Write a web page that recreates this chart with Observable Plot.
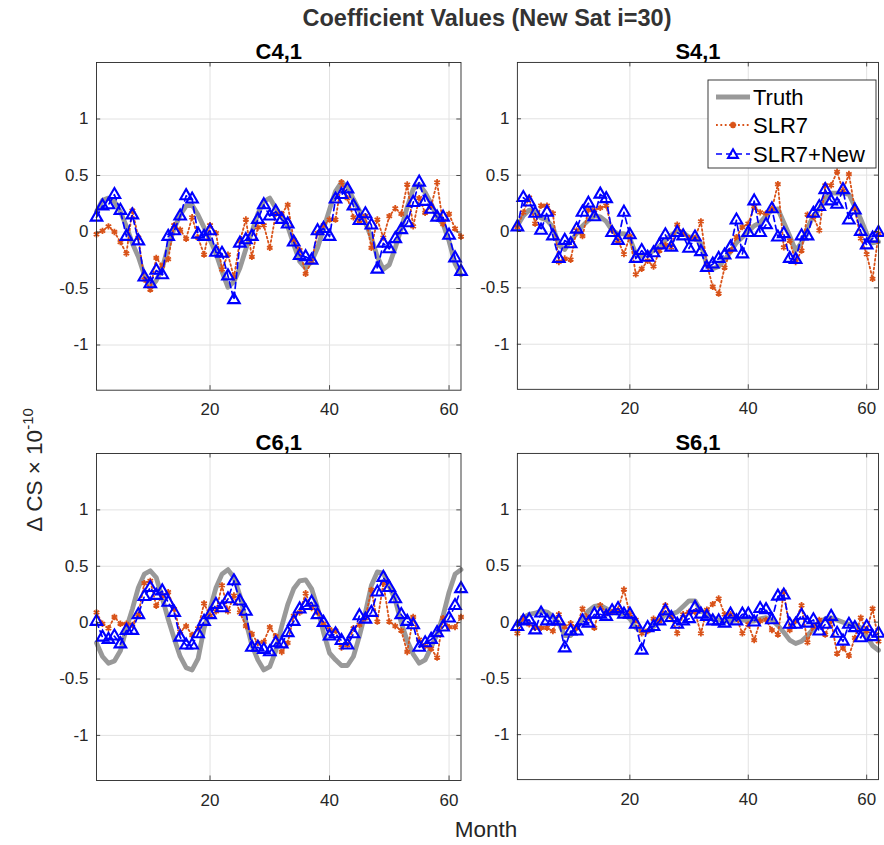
<!DOCTYPE html>
<html><head><meta charset="utf-8">
<script src="https://cdn.jsdelivr.net/npm/d3@7"></script>
<script src="https://cdn.jsdelivr.net/npm/@observablehq/plot@0.6"></script>
<style>
body{margin:0;background:#fff;font-family:"Liberation Sans",Arial,Helvetica,sans-serif;}
#fig{position:relative;width:884px;height:845px;background:#fff;overflow:hidden;}
.panel{position:absolute;}
.lbl{position:absolute;color:#262626;white-space:nowrap;}
</style></head><body><div id="fig"></div>
<script>
const months = d3.range(1, 63);
const xTicks = [20, 40, 60];
const yTicks = [-1, -0.5, 0, 0.5, 1];
const yDomain = [-1.4, 1.5];
const seriesNames = ["Truth", "SLR7", "SLR7+New"];
const panelTitles = ["C4,1", "S4,1", "C6,1", "S6,1"];

const c41Truth = [0.18,0.28,0.30,0.27,0.18,0.05,-0.10,-0.22,-0.38,-0.49,-0.43,-0.32,-0.13,0.03,0.15,0.23,0.24,0.15,0.04,-0.07,-0.19,-0.35,-0.49,-0.44,-0.32,-0.15,0.00,0.16,0.27,0.30,0.21,0.13,0.05,-0.11,-0.26,-0.32,-0.26,-0.14,0.03,0.20,0.36,0.44,0.40,0.29,0.19,0.08,-0.05,-0.22,-0.33,-0.29,-0.14,0.03,0.22,0.38,0.42,0.35,0.25,0.13,0.07,-0.08,-0.28,-0.38];
const c41Slr7 = [-0.02,0.01,0.05,0.00,-0.09,-0.19,0.19,-0.05,-0.42,-0.51,-0.23,-0.30,-0.24,0.06,0.02,-0.06,0.13,-0.05,-0.20,0.06,-0.01,-0.33,-0.20,-0.40,-0.08,0.11,-0.22,0.04,0.06,-0.14,0.16,0.16,0.24,-0.07,-0.16,-0.37,-0.26,-0.01,0.06,0.11,0.11,0.44,0.30,0.13,0.10,0.14,-0.14,0.11,-0.05,0.14,0.21,0.16,0.42,0.05,0.30,0.17,0.23,0.44,0.07,0.16,0.03,-0.04];
const c41New = [0.13,0.23,0.24,0.33,0.19,-0.04,0.15,-0.08,-0.40,-0.46,-0.34,-0.38,-0.04,0.01,0.14,0.32,0.29,-0.02,-0.04,0.01,-0.18,-0.19,-0.39,-0.60,-0.10,-0.07,-0.04,0.11,0.24,0.14,0.18,0.11,0.07,-0.09,-0.21,-0.22,-0.25,0.01,0.03,-0.04,0.29,0.33,0.38,0.23,0.10,0.16,0.06,-0.33,-0.10,-0.15,-0.06,0.02,0.08,0.26,0.44,0.27,0.20,0.13,0.13,-0.03,-0.23,-0.35];

const s41Truth = [0.05,0.14,0.19,0.17,0.12,0.10,0.04,-0.12,-0.16,-0.08,-0.02,0.05,0.10,0.14,0.13,0.09,0.01,-0.02,-0.02,-0.06,-0.20,-0.22,-0.20,-0.17,-0.13,-0.08,-0.03,0.00,-0.01,-0.05,-0.05,-0.11,-0.30,-0.33,-0.31,-0.25,-0.18,-0.10,-0.05,0.00,0.05,0.08,0.14,0.19,0.20,0.08,-0.04,-0.17,-0.10,0.03,0.14,0.20,0.30,0.34,0.34,0.34,0.33,0.22,0.11,-0.02,-0.10,-0.09];
const s41Slr7 = [0.04,0.17,0.30,0.07,0.23,0.23,0.16,-0.27,-0.24,-0.25,0.01,-0.04,0.19,0.19,0.21,0.23,0.01,-0.08,-0.20,-0.04,-0.38,-0.33,-0.26,-0.31,-0.17,-0.12,-0.14,0.06,-0.02,-0.06,-0.06,0.09,-0.29,-0.49,-0.55,-0.32,-0.17,-0.05,0.04,0.07,0.22,0.17,0.16,0.20,0.42,-0.14,-0.08,-0.27,-0.17,0.15,0.13,0.01,0.41,0.41,0.53,0.36,0.51,0.20,-0.06,-0.20,-0.42,-0.02];
const s41New = [0.04,0.30,0.26,0.16,0.01,0.17,-0.04,-0.24,-0.08,-0.11,0.02,0.17,0.25,0.13,0.33,0.29,-0.01,-0.08,0.17,-0.03,-0.24,-0.17,-0.23,-0.19,-0.12,-0.03,-0.14,-0.01,-0.04,-0.15,-0.05,-0.18,-0.32,-0.29,-0.24,-0.21,-0.14,0.10,-0.20,-0.01,0.27,-0.01,0.06,0.20,-0.05,-0.02,-0.24,-0.25,-0.04,-0.04,0.16,0.22,0.37,0.27,0.24,0.37,0.10,0.19,0.00,-0.12,-0.06,-0.01];

const c61Truth = [-0.18,-0.30,-0.36,-0.34,-0.25,-0.05,0.12,0.31,0.43,0.46,0.40,0.22,0.03,-0.14,-0.30,-0.40,-0.42,-0.32,-0.05,0.12,0.31,0.43,0.47,0.40,0.24,0.01,-0.20,-0.33,-0.42,-0.39,-0.25,-0.03,0.16,0.30,0.37,0.38,0.30,0.13,-0.09,-0.27,-0.33,-0.38,-0.38,-0.30,-0.12,0.09,0.33,0.45,0.44,0.32,0.20,0.00,-0.16,-0.28,-0.36,-0.33,-0.22,-0.10,0.06,0.27,0.43,0.47];
const c61Slr7 = [0.09,-0.01,-0.05,0.05,-0.01,-0.01,-0.02,0.07,0.35,0.37,0.15,0.24,0.27,0.12,-0.08,-0.03,-0.11,-0.05,0.17,0.06,0.10,0.33,0.10,0.24,0.09,-0.03,-0.10,-0.18,-0.17,-0.04,-0.12,-0.26,-0.18,0.06,0.09,0.26,0.13,0.09,-0.01,-0.06,-0.07,-0.22,-0.20,-0.05,-0.02,0.04,0.29,0.01,0.35,0.01,-0.03,-0.07,-0.26,0.05,-0.15,-0.21,-0.23,-0.31,0.04,-0.04,-0.04,0.05];
const c61New = [0.01,-0.13,-0.15,-0.12,-0.19,-0.07,-0.07,0.07,0.23,0.31,0.24,0.28,0.18,0.09,-0.13,-0.20,-0.20,-0.10,0.01,0.07,0.16,0.13,0.21,0.37,0.19,0.10,-0.22,-0.22,-0.24,-0.26,-0.18,-0.19,-0.09,0.01,0.12,0.15,0.18,0.07,0.00,-0.12,-0.10,-0.16,-0.20,-0.10,0.06,0.03,0.09,0.27,0.40,0.31,0.21,0.07,0.01,-0.02,-0.22,-0.18,-0.15,-0.09,-0.04,0.04,0.15,0.30];

const s61Truth = [-0.02,0.04,0.07,0.08,0.10,0.09,0.05,-0.01,-0.12,-0.12,-0.05,0.03,0.10,0.14,0.15,0.12,0.09,0.08,0.07,0.03,-0.05,-0.08,-0.08,-0.04,0.01,0.07,0.07,0.09,0.14,0.19,0.19,0.10,0.07,0.04,0.02,0.01,0.01,0.02,0.02,0.01,0.01,0.03,0.04,0.02,-0.03,-0.09,-0.16,-0.19,-0.17,-0.12,-0.06,0.00,0.03,0.04,0.02,0.00,-0.02,-0.02,-0.05,-0.12,-0.21,-0.25];
const s61Slr7 = [-0.10,0.04,-0.02,-0.05,-0.05,-0.05,-0.08,0.07,-0.04,-0.01,-0.05,0.12,0.04,-0.05,0.15,0.08,0.09,0.11,0.29,0.07,0.02,-0.10,-0.08,0.03,0.01,0.15,0.05,-0.10,0.07,0.09,0.09,-0.10,0.11,0.16,0.21,0.07,0.07,0.04,-0.10,-0.02,-0.16,0.01,0.02,-0.07,-0.11,0.27,-0.07,0.01,0.15,-0.18,-0.04,0.02,-0.11,0.01,-0.28,-0.23,-0.30,-0.14,0.04,-0.08,0.12,-0.17];
const s61New = [-0.04,0.01,0.02,-0.07,0.08,0.01,0.01,0.01,-0.23,-0.08,-0.08,0.01,-0.01,0.07,0.07,0.05,0.10,0.12,0.07,0.07,-0.02,-0.25,-0.05,-0.04,0.01,0.10,0.04,-0.02,0.01,0.03,0.13,0.07,0.05,0.01,0.01,-0.01,0.07,0.01,0.07,0.07,0.00,0.12,0.11,0.02,0.23,0.24,-0.02,-0.02,0.06,-0.01,0.02,-0.08,-0.02,0.05,-0.10,-0.17,-0.02,-0.05,-0.14,-0.04,-0.13,-0.10];

const colors = {truth: "#999999", slr7: "#D95319", slr7new: "#0000FF"};

const panels = [
  {title: panelTitles[0], truth: c41Truth, slr7: c41Slr7, slr7new: c41New, left: 95.5, top: 61.5, w: 364.5, h: 327.7},
  {title: panelTitles[1], truth: s41Truth, slr7: s41Slr7, slr7new: s41New, left: 517, top: 61.5, w: 362, h: 327.7},
  {title: panelTitles[2], truth: c61Truth, slr7: c61Slr7, slr7new: c61New, left: 95.5, top: 452.5, w: 364.5, h: 327},
  {title: panelTitles[3], truth: s61Truth, slr7: s61Slr7, slr7new: s61New, left: 517, top: 452.5, w: 362, h: 327}
];

const fig = document.getElementById("fig");
const mL = 50, mR = 6, mT = 34, mB = 34;

for (const p of panels) {
  const rows = (arr) => months.map((m, i) => ({m, v: arr[i]}));
  const chart = Plot.plot({
    width: mL + p.w + mR,
    height: mT + p.h + mB,
    marginLeft: mL, marginRight: mR, marginTop: mT, marginBottom: mB,
    style: {fontSize: "17px", fontFamily: "'Liberation Sans', Arial, sans-serif", color: "#262626", background: "transparent", overflow: "visible"},
    x: {domain: [1, 62]},
    y: {domain: yDomain},
    marks: [
      Plot.gridX(xTicks, {stroke: "#e2e2e2", strokeOpacity: 1, strokeWidth: 1}),
      Plot.gridY(yTicks, {stroke: "#e2e2e2", strokeOpacity: 1, strokeWidth: 1}),
      Plot.line(rows(p.truth), {x: "m", y: "v", stroke: colors.truth, strokeWidth: 4.8, strokeLinejoin: "round"}),
      Plot.line(rows(p.slr7), {x: "m", y: "v", stroke: colors.slr7, strokeWidth: 1.8, strokeDasharray: "1.8,2.6"}),
      Plot.dot(rows(p.slr7), {x: "m", y: "v", symbol: "asterisk", r: 3, stroke: colors.slr7, strokeWidth: 1.8}),
      Plot.line(rows(p.slr7new), {x: "m", y: "v", stroke: colors.slr7new, strokeWidth: 1.7, strokeDasharray: "6,4"}),
      Plot.dot(rows(p.slr7new), {x: "m", y: "v", symbol: "triangle", r: 4.3, stroke: colors.slr7new, strokeWidth: 2.1, fill: "none"}),
      Plot.ruleX(xTicks, {x: d => d, y1: yDomain[0], y2: yDomain[0] + 0.04, stroke: "#262626", strokeWidth: 0.8}),
      Plot.ruleX(xTicks, {x: d => d, y1: yDomain[1], y2: yDomain[1] - 0.04, stroke: "#262626", strokeWidth: 0.8}),
      Plot.ruleY(yTicks, {y: d => d, x1: 1, x2: 1.7, stroke: "#262626", strokeWidth: 0.8}),
      Plot.ruleY(yTicks, {y: d => d, x1: 62, x2: 61.3, stroke: "#262626", strokeWidth: 0.8}),
      Plot.frame({stroke: "#262626", strokeWidth: 0.9}),
      Plot.axisX({ticks: xTicks, tickSize: 0, tickPadding: 13, label: null, fill: "#262626"}),
      Plot.axisY({ticks: yTicks, tickSize: 0, tickPadding: 8, label: null, tickFormat: d => String(d), fill: "#262626"}),
      Plot.text([p.title], {frameAnchor: "top", dy: -19, text: d => d, fontWeight: "bold", fontSize: 22, fill: "#000"})
    ]
  });
  const wrap = document.createElement("div");
  wrap.className = "panel";
  wrap.style.left = (p.left - mL) + "px";
  wrap.style.top = (p.top - mT) + "px";
  wrap.appendChild(chart);
  fig.appendChild(wrap);
}

// Title and axis labels
function addLabel(html, css) {
  const d = document.createElement("div");
  d.className = "lbl";
  d.innerHTML = html;
  Object.assign(d.style, css);
  fig.appendChild(d);
  return d;
}
addLabel("Coefficient Values (New Sat i=30)", {left: "487px", top: "18px", transform: "translate(-50%,-50%)", fontWeight: "bold", fontSize: "23.5px", color: "#333"});
addLabel("Month", {left: "486px", top: "830px", transform: "translate(-50%,-50%)", fontSize: "22.5px"});
addLabel("Δ CS × 10<sup style='font-size:15px;vertical-align:9px'>-10</sup>", {left: "33px", top: "470px", transform: "translate(-50%,-50%) rotate(-90deg)", fontSize: "22.5px"});

// Legend
const ns = "http://www.w3.org/2000/svg";
const leg = document.createElementNS(ns, "svg");
leg.setAttribute("width", 170); leg.setAttribute("height", 90);
leg.style.position = "absolute"; leg.style.left = "707px"; leg.style.top = "79px";
const el = (tag, attrs) => { const e = document.createElementNS(ns, tag); for (const k in attrs) e.setAttribute(k, attrs[k]); leg.appendChild(e); return e; };
el("rect", {x: 1, y: 1, width: 168, height: 88, fill: "#fff", stroke: "#262626", "stroke-width": 0.9});
const rowsY = [18, 46, 75];
const keys = ["truth", "slr7", "slr7new"];
keys.forEach((k, i) => {
  const y = rowsY[i];
  const line = el("line", {x1: 9, x2: 43, y1: y, y2: y, stroke: colors[k]});
  if (k === "truth") line.setAttribute("stroke-width", 4.8);
  if (k === "slr7") { line.setAttribute("stroke-width", 1.8); line.setAttribute("stroke-dasharray", "1.8,2.6");
    el("path", {d: `M26,${y-3.2}V${y+3.2}M22.8,${y}H29.2M23.7,${y-2.3}L28.3,${y+2.3}M23.7,${y+2.3}L28.3,${y-2.3}`, stroke: colors[k], "stroke-width": 1.8, fill: "none"}); }
  if (k === "slr7new") { line.setAttribute("stroke-width", 1.7); line.setAttribute("stroke-dasharray", "6,4");
    el("path", {d: d3.symbol(d3.symbolTriangle, 42)(), transform: `translate(26,${y+1})`, stroke: colors[k], "stroke-width": 2.1, fill: "none"}); }
  const t = el("text", {x: 46, y: y, "dominant-baseline": "central", "font-size": 22, fill: "#000", "font-family": "'Liberation Sans', Arial, sans-serif"});
  t.textContent = seriesNames[i];
});
fig.appendChild(leg);
</script></body></html>
